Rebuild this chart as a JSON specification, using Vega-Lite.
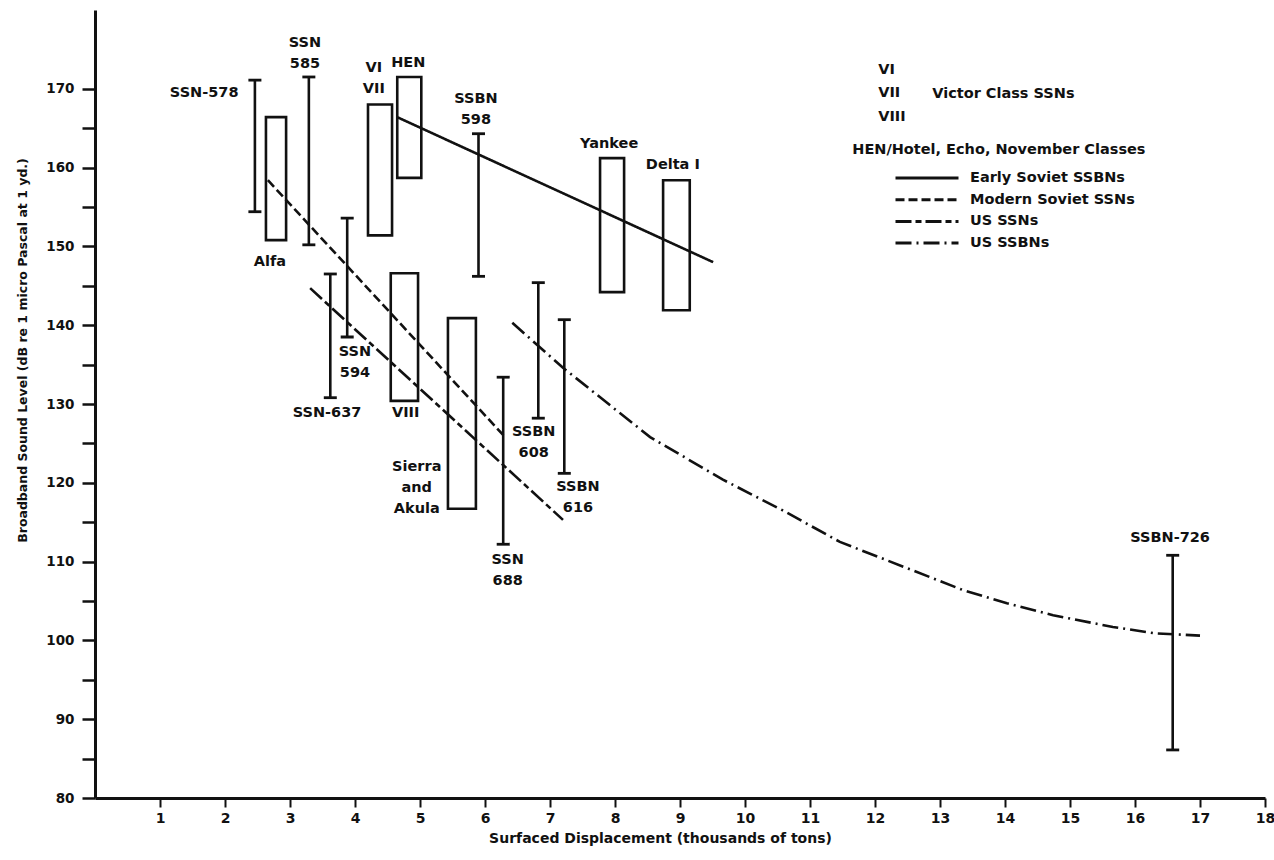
{
  "$schema": "https://vega.github.io/schema/vega-lite/v6.json",
  "width": 1170,
  "height": 788,
  "autosize": {"type": "none"},
  "padding": {"left": 95, "top": 10, "right": 9, "bottom": 62},
  "background": "white",
  "config": {"view": {"stroke": null}, "font": "DejaVu Sans"},
  "datasets": {
    "boxes": [
      {"name": "Alfa", "x1": 2.63, "x2": 2.94, "lo": 150.8, "hi": 166.4},
      {"name": "Victor I/II", "x1": 4.2, "x2": 4.57, "lo": 151.4, "hi": 168.0},
      {"name": "HEN", "x1": 4.65, "x2": 5.02, "lo": 158.7, "hi": 171.5},
      {"name": "Yankee", "x1": 7.77, "x2": 8.14, "lo": 144.2, "hi": 161.2},
      {"name": "Delta I", "x1": 8.74, "x2": 9.15, "lo": 141.9, "hi": 158.4},
      {"name": "Victor III", "x1": 4.55, "x2": 4.97, "lo": 130.4, "hi": 146.6},
      {"name": "Sierra and Akula", "x1": 5.43, "x2": 5.86, "lo": 116.7, "hi": 140.9}
    ],
    "bars": [
      {"name": "SSN-578", "x": 2.46, "lo": 154.4, "hi": 171.1},
      {"name": "SSN-585", "x": 3.29, "lo": 150.2, "hi": 171.5},
      {"name": "SSN-594", "x": 3.88, "lo": 138.5, "hi": 153.6},
      {"name": "SSN-637", "x": 3.62, "lo": 130.8, "hi": 146.5},
      {"name": "SSBN-598", "x": 5.9, "lo": 146.2, "hi": 164.3},
      {"name": "SSN-688", "x": 6.28, "lo": 112.2, "hi": 133.4},
      {"name": "SSBN-608", "x": 6.82, "lo": 128.2, "hi": 145.4},
      {"name": "SSBN-616", "x": 7.22, "lo": 121.2, "hi": 140.7},
      {"name": "SSBN-726", "x": 16.58, "lo": 86.1, "hi": 110.8}
    ],
    "lines": [
      {"series": "Early Soviet SSBNs", "x": 4.65, "y": 166.4},
      {"series": "Early Soviet SSBNs", "x": 9.51, "y": 148.0},
      {"series": "Modern Soviet SSNs", "x": 2.66, "y": 158.4},
      {"series": "Modern Soviet SSNs", "x": 6.31, "y": 125.8},
      {"series": "US SSNs", "x": 3.31, "y": 144.7},
      {"series": "US SSNs", "x": 7.2, "y": 115.3},
      {"series": "US SSBNs", "x": 6.42, "y": 140.3},
      {"series": "US SSBNs", "x": 7.2, "y": 134.6},
      {"series": "US SSBNs", "x": 8.54, "y": 125.8},
      {"series": "US SSBNs", "x": 9.66, "y": 120.4},
      {"series": "US SSBNs", "x": 10.58, "y": 116.5},
      {"series": "US SSBNs", "x": 11.46, "y": 112.5},
      {"series": "US SSBNs", "x": 12.08, "y": 110.5},
      {"series": "US SSBNs", "x": 13.35, "y": 106.4},
      {"series": "US SSBNs", "x": 14.03, "y": 104.7},
      {"series": "US SSBNs", "x": 14.74, "y": 103.2},
      {"series": "US SSBNs", "x": 15.66, "y": 101.7},
      {"series": "US SSBNs", "x": 16.31, "y": 100.9},
      {"series": "US SSBNs", "x": 17.0, "y": 100.6}
    ],
    "labels": [
      {"text": "SSN-578", "x": 1.68, "y": 169.5},
      {"text": "SSN\n585", "x": 3.23, "y": 175.8},
      {"text": "VI\nVII", "x": 4.29, "y": 172.6},
      {"text": "HEN", "x": 4.82, "y": 173.3},
      {"text": "Alfa", "x": 2.69, "y": 148.0},
      {"text": "SSBN\n598", "x": 5.86, "y": 168.7},
      {"text": "Yankee", "x": 7.91, "y": 163.0},
      {"text": "Delta I", "x": 8.89, "y": 160.3},
      {"text": "SSN\n594", "x": 4.0, "y": 136.6},
      {"text": "SSN-637", "x": 3.57, "y": 128.9},
      {"text": "VIII", "x": 4.78, "y": 128.9},
      {"text": "Sierra\nand\nAkula", "x": 4.95, "y": 122.0},
      {"text": "SSBN\n608", "x": 6.75, "y": 126.4},
      {"text": "SSBN\n616", "x": 7.43, "y": 119.5},
      {"text": "SSN\n688", "x": 6.35, "y": 110.2},
      {"text": "SSBN-726", "x": 16.54, "y": 113.0}
    ],
    "notes": [
      {"text": "VI\nVII\nVIII", "x": 12.05, "y": 172.4},
      {"text": "Victor Class SSNs", "x": 12.88, "y": 169.3},
      {"text": "HEN/Hotel, Echo, November Classes", "x": 11.65, "y": 162.2}
    ]
  },
  "layer": [
    {
      "data": {"name": "lines"},
      "mark": {"type": "line", "color": "#111", "strokeWidth": 2.6},
      "encoding": {
        "x": {
          "field": "x", "type": "quantitative",
          "scale": {"domain": [0, 18], "nice": false},
          "axis": {
            "values": [1,2,3,4,5,6,7,8,9,10,11,12,13,14,15,16,17,18],
            "format": "d",
            "title": "Surfaced Displacement (thousands of tons)",
            "grid": false,
            "domainColor": "#111", "domainWidth": 3,
            "tickColor": "#111", "tickWidth": 2, "tickSize": 9,
            "labelFont": "DejaVu Sans", "labelFontWeight": "bold", "labelFontSize": 14,
            "labelColor": "#111", "labelPadding": 4, "labelFlush": false,
            "titleFont": "DejaVu Sans", "titleFontWeight": "bold", "titleFontSize": 14,
            "titleColor": "#111", "titlePadding": 6, "titleX": 565
          }
        },
        "y": {
          "field": "y", "type": "quantitative",
          "scale": {"domain": [80, 180], "nice": false, "zero": false},
          "axis": {
            "values": [80,85,90,95,100,105,110,115,120,125,130,135,140,145,150,155,160,165,170],
            "labelExpr": "datum.value % 10 === 0 ? datum.label : ''",
            "title": "Broadband Sound Level (dB re 1 micro Pascal at 1 yd.)",
            "grid": false,
            "domainColor": "#111", "domainWidth": 3,
            "tickColor": "#111", "tickWidth": 2.5, "tickSize": 13,
            "labelFont": "DejaVu Sans", "labelFontWeight": "bold", "labelFontSize": 13.5,
            "labelColor": "#111", "labelPadding": 8, "labelFlush": false,
            "titleFont": "DejaVu Sans", "titleFontWeight": "bold", "titleFontSize": 12.5,
            "titleColor": "#111", "titleX": -66, "titleY": 340
          }
        },
        "strokeDash": {
          "field": "series", "type": "nominal",
          "scale": {
            "domain": ["Early Soviet SSBNs", "Modern Soviet SSNs", "US SSNs", "US SSBNs"],
            "range": [[1, 0], [9, 4], [16, 4, 6, 4], [16, 5, 2, 5]]
          },
          "legend": {
            "orient": "none", "legendX": 820, "legendY": 156,
            "title": null, "padding": 0,
            "symbolType": "M-3,0H3", "symbolSize": 441,
            "symbolStrokeWidth": 3, "symbolStrokeColor": "#111",
            "labelFont": "DejaVu Sans", "labelFontWeight": "bold", "labelFontSize": 14.5,
            "labelColor": "#111", "labelOffset": 31, "labelLimit": 400, "rowPadding": 2.7
          }
        }
      }
    },
    {
      "data": {"name": "boxes"},
      "mark": {"type": "rect", "filled": false, "stroke": "#111", "strokeWidth": 2.6},
      "encoding": {
        "x": {"field": "x1", "type": "quantitative"},
        "x2": {"field": "x2"},
        "y": {"field": "lo", "type": "quantitative"},
        "y2": {"field": "hi"}
      }
    },
    {
      "data": {"name": "bars"},
      "mark": {"type": "rule", "color": "#111", "strokeWidth": 2.6},
      "encoding": {
        "x": {"field": "x", "type": "quantitative"},
        "y": {"field": "lo", "type": "quantitative"},
        "y2": {"field": "hi"}
      }
    },
    {
      "data": {"name": "bars"},
      "mark": {"type": "tick", "orient": "horizontal", "color": "#111", "opacity": 1, "size": 13, "thickness": 2.8},
      "encoding": {
        "x": {"field": "x", "type": "quantitative"},
        "y": {"field": "lo", "type": "quantitative"}
      }
    },
    {
      "data": {"name": "bars"},
      "mark": {"type": "tick", "orient": "horizontal", "color": "#111", "opacity": 1, "size": 13, "thickness": 2.8},
      "encoding": {
        "x": {"field": "x", "type": "quantitative"},
        "y": {"field": "hi", "type": "quantitative"}
      }
    },
    {
      "data": {"name": "labels"},
      "mark": {"type": "text", "align": "center", "baseline": "middle", "lineBreak": "\n", "lineHeight": 21, "font": "DejaVu Sans", "fontWeight": "bold", "fontSize": 14.5, "color": "#111"},
      "encoding": {
        "x": {"field": "x", "type": "quantitative"},
        "y": {"field": "y", "type": "quantitative"},
        "text": {"field": "text"}
      }
    },
    {
      "data": {"name": "notes"},
      "mark": {"type": "text", "align": "left", "baseline": "middle", "lineBreak": "\n", "lineHeight": 23.5, "font": "DejaVu Sans", "fontWeight": "bold", "fontSize": 14.5, "color": "#111"},
      "encoding": {
        "x": {"field": "x", "type": "quantitative"},
        "y": {"field": "y", "type": "quantitative"},
        "text": {"field": "text"}
      }
    }
  ]
}
